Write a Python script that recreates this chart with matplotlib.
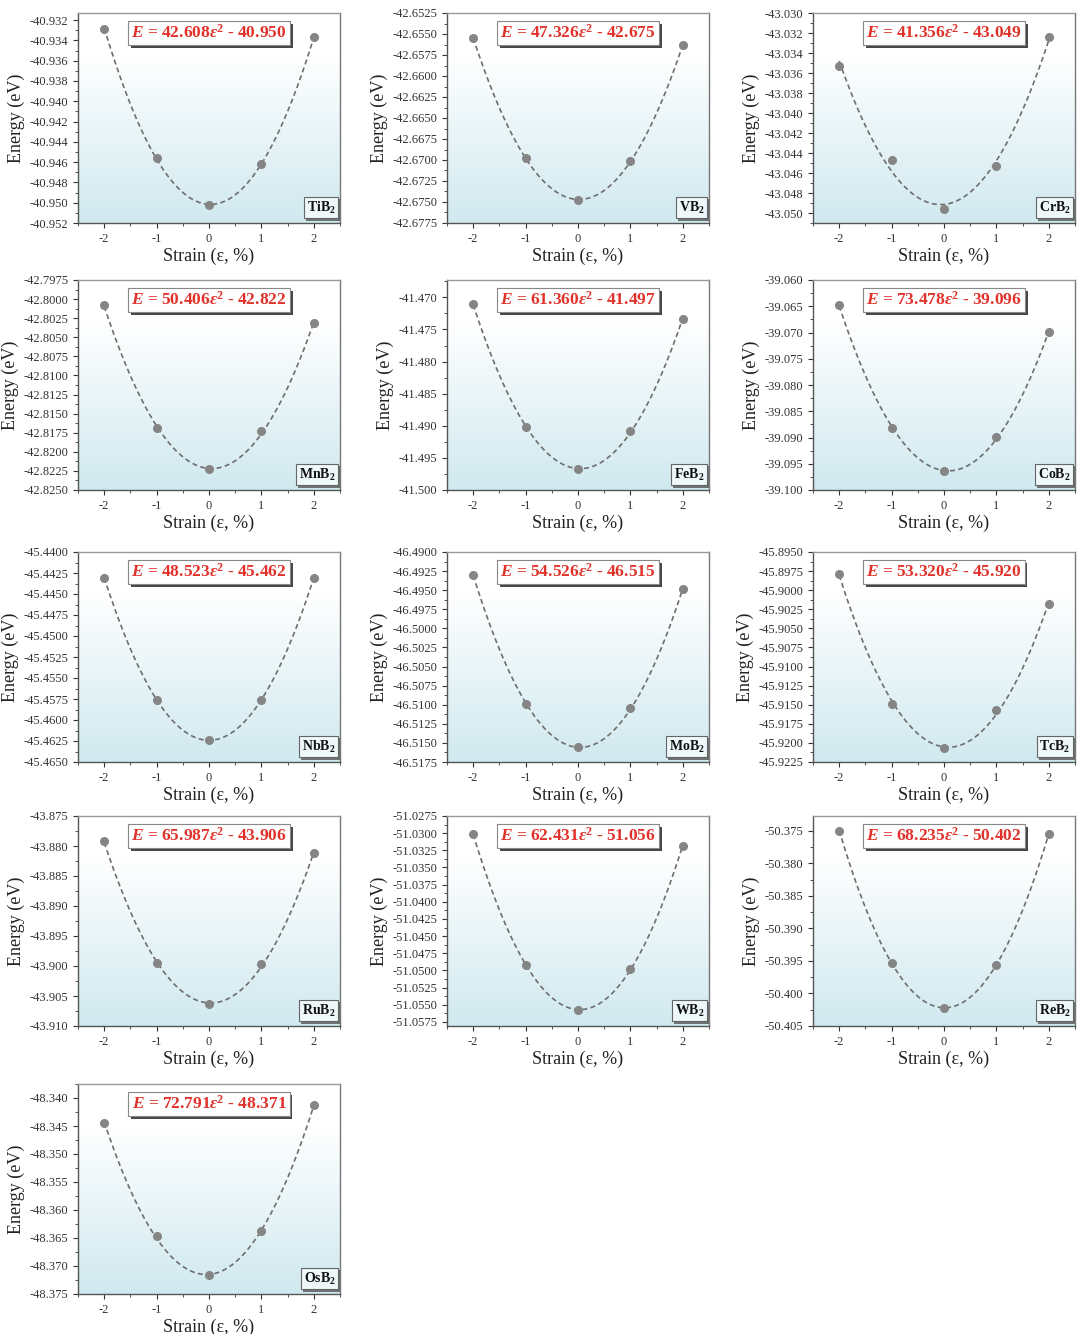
import numpy as np
import matplotlib
matplotlib.use("Agg")
import matplotlib.pyplot as plt
import matplotlib.ticker as ticker
import matplotlib.patheffects as pe
from matplotlib.colors import LinearSegmentedColormap

plt.rcParams['font.family'] = ['Liberation Serif', 'DejaVu Serif']
plt.rcParams['mathtext.fontset'] = 'custom'
plt.rcParams['mathtext.rm'] = 'Liberation Serif'
plt.rcParams['mathtext.it'] = 'Liberation Serif:italic'
plt.rcParams['mathtext.bf'] = 'Liberation Serif:bold'
plt.rcParams['mathtext.bfit'] = 'Liberation Serif:italic:bold'
plt.rcParams['axes.unicode_minus'] = False

# strain in %
strain = [-2, -1, 0, 1, 2]

materials = ['TiB', 'VB', 'CrB', 'MnB', 'FeB', 'CoB', 'NbB', 'MoB', 'TcB',
             'RuB', 'WB', 'ReB', 'OsB']

tib2 = [-40.93283, -40.94555, -40.95025, -40.94621, -40.93369]
vb2 = [-42.65545, -42.66982, -42.67471, -42.67014, -42.65632]
crb2 = [-43.03532, -43.04465, -43.04960, -43.04534, -43.03236]
mnb2 = [-42.80082, -42.81685, -42.82224, -42.81733, -42.80319]
feb2 = [-41.47108, -41.49015, -41.49672, -41.49087, -41.47333]
cob2 = [-39.06475, -39.08825, -39.09631, -39.08988, -39.07000]
nbb2 = [-45.44305, -45.45760, -45.46235, -45.45765, -45.44305]
mob2 = [-46.49296, -46.50993, -46.51554, -46.51045, -46.49487]
tcb2 = [-45.89782, -45.91484, -45.92065, -45.91571, -45.90185]
rub2 = [-43.87925, -43.89951, -43.90625, -43.89973, -43.88124]
wb2 = [-51.03010, -51.04927, -51.05573, -51.04975, -51.03184]
reb2 = [-50.37495, -50.39524, -50.40224, -50.39560, -50.37541]
osb2 = [-48.34444, -48.36470, -48.37163, -48.36380, -48.34124]

energies = [tib2, vb2, crb2, mnb2, feb2, cob2, nbb2, mob2, tcb2, rub2, wb2, reb2, osb2]

fit_a = [42.608, 47.326, 41.356, 50.406, 61.360, 73.478, 48.523, 54.526, 53.320,
         65.987, 62.431, 68.235, 72.791]
fit_b = [-40.950, -42.675, -43.049, -42.822, -41.497, -39.096, -45.462, -46.515,
         -45.920, -43.906, -51.056, -50.402, -48.371]

# axis settings: (ymin, ymax, major step, decimals)
y_axes = [(-40.952, -40.9313, 0.002, 3),
          (-42.6775, -42.6525, 0.0025, 4),
          (-43.051, -43.030, 0.002, 3),
          (-42.8250, -42.7975, 0.0025, 4),
          (-41.500, -41.4673, 0.005, 3),
          (-39.100, -39.060, 0.005, 3),
          (-45.4650, -45.4400, 0.0025, 4),
          (-46.5175, -46.4900, 0.0025, 4),
          (-45.9225, -45.8950, 0.0025, 4),
          (-43.910, -43.875, 0.005, 3),
          (-51.0581, -51.0275, 0.0025, 4),
          (-50.405, -50.3727, 0.005, 3),
          (-48.375, -48.3375, 0.005, 3)]

W, H = 1078, 1334
fig = plt.figure(figsize=(W / 100, H / 100), dpi=100)

col_left = [78, 447, 813]
row_top = [13, 280, 552, 816, 1084]
ax_w, ax_h = 262, 210

bg_cmap = LinearSegmentedColormap.from_list(
    'bg', [(0, '#ffffff'), (0.2, '#ffffff'), (1, '#d0e9ef')])
grad = np.linspace(0, 1, 256).reshape(-1, 1)

for i, name in enumerate(materials):
    r, c = divmod(i, 3)
    ax = fig.add_axes([col_left[c] / W, 1 - (row_top[r] + ax_h) / H, ax_w / W, ax_h / H])
    ax.imshow(grad, cmap=bg_cmap, extent=[0, 1, 0, 1], transform=ax.transAxes,
              aspect='auto', zorder=0)

    e = energies[i]
    coef = np.polyfit(strain, e, 2)
    xs = np.linspace(-2, 2, 200)
    ax.plot(xs, np.polyval(coef, xs), ls=(0, (3, 2)), color='#6e6e6e', lw=1.2, zorder=2)
    ax.plot(strain, e, 'o', color='#858585', ms=5.5, zorder=3)

    ymin, ymax, step, dec = y_axes[i]
    ax.set_xlim(-2.5, 2.5)
    ax.set_ylim(ymin, ymax)
    ax.xaxis.set_major_locator(ticker.MultipleLocator(1))
    ax.xaxis.set_minor_locator(ticker.MultipleLocator(0.5))
    ax.yaxis.set_major_locator(ticker.MultipleLocator(step))
    ax.yaxis.set_minor_locator(ticker.AutoMinorLocator(2))
    ax.yaxis.set_major_formatter(ticker.FormatStrFormatter('%.' + str(dec) + 'f'))
    ax.xaxis.set_major_formatter(ticker.FormatStrFormatter('%d'))
    ax.tick_params(which='both', direction='out', labelsize=9, colors='#333333')
    ax.tick_params(which='major', length=3.5, width=0.8)
    ax.tick_params(which='minor', length=2, width=0.6)
    for s in ax.spines.values():
        s.set_color('#555555')
        s.set_linewidth(1.0)
    ax.spines['top'].set_color('#999999')
    ax.spines['right'].set_color('#777777')

    ax.set_xlabel('Strain (ε, %)', fontsize=13, color='#222222', labelpad=2)
    ax.set_ylabel('Energy (eV)', fontsize=13, color='#222222', labelpad=3)

    eq = (r'$\mathbfit{E}$ = ' + '%.3f' % fit_a[i] + r'$\mathbfit{\varepsilon}^{\mathbf{2}}$ - '
          + '%.3f' % abs(fit_b[i]))
    t = ax.text(0.5, 0.905, eq, transform=ax.transAxes, ha='center', va='center',
                fontsize=12.5, fontweight='bold', color='#e0322a', zorder=5,
                bbox=dict(boxstyle='square,pad=0.18', fc='white', ec='#888888', lw=0.8))
    t.get_bbox_patch().set_path_effects(
        [pe.SimplePatchShadow(offset=(2, -2), shadow_rgbFace='#333333', alpha=0.9), pe.Normal()])

    lab = ax.text(0.983, 0.035, name + r'$_\mathbf{2}$', transform=ax.transAxes,
                  ha='right', va='bottom', fontsize=10, fontweight='bold', color='#111111',
                  zorder=5,
                  bbox=dict(boxstyle='square,pad=0.2', fc='#eef7f9', ec='#666666', lw=0.8))
    lab.get_bbox_patch().set_path_effects(
        [pe.SimplePatchShadow(offset=(1.5, -1.5), shadow_rgbFace='#555555', alpha=0.8), pe.Normal()])

fig.savefig('out.png', dpi=100)
